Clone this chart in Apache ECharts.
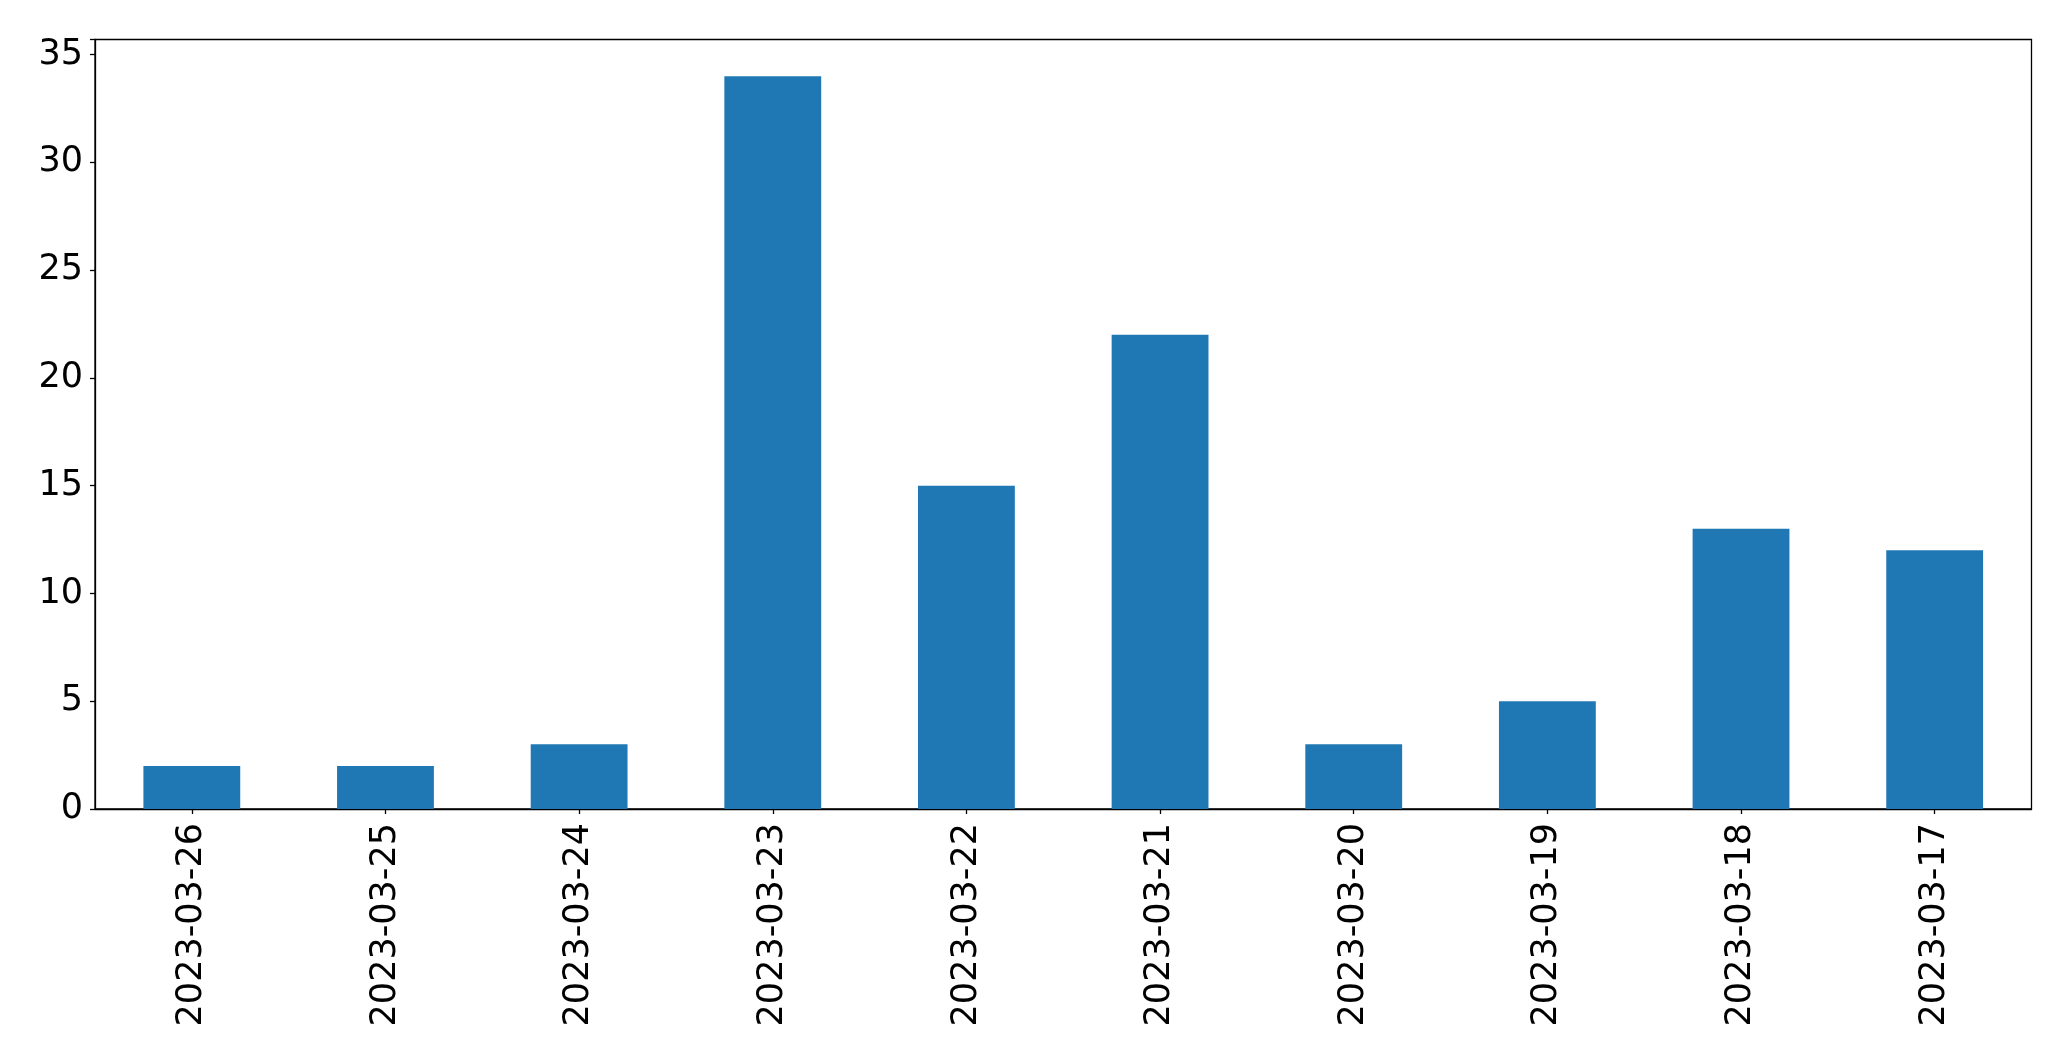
<!DOCTYPE html>
<html><head><meta charset="utf-8">
<script src="https://cdn.jsdelivr.net/npm/echarts@6/dist/echarts.min.js"></script>
<style>html,body{margin:0;padding:0;background:#fff}#c{width:2071px;height:1061px}</style>
</head><body><div id="c"></div>
<script>
const categories = ["2023-03-26","2023-03-25","2023-03-24","2023-03-23","2023-03-22","2023-03-21","2023-03-20","2023-03-19","2023-03-18","2023-03-17"];
const values = [2,2,3,34,15,22,3,5,13,12];
const yTicks = [0,5,10,15,20,25,30,35];

const chart = echarts.init(document.getElementById('c'), null, {renderer:'canvas'});
const font = 'DejaVu Sans';
chart.setOption({
  animation:false,
  grid:{left:95,top:39.5,right:39.5,bottom:252,show:true,borderColor:'#000',borderWidth:1.3,backgroundColor:'transparent'},
  xAxis:{type:'category',data:categories,boundaryGap:true,
    axisLine:{show:true,lineStyle:{color:'#000',width:1.3}},
    axisTick:{show:true,alignWithLabel:true,length:5,lineStyle:{color:'#000',width:1.3}},
    axisLabel:{rotate:90,fontSize:35,fontFamily:font,color:'#000',margin:14}},
  yAxis:{type:'value',min:0,max:35.7,interval:5,
    axisLine:{show:true,lineStyle:{color:'#000',width:1.3}},
    axisTick:{show:true,length:5,lineStyle:{color:'#000',width:1.3}},
    splitLine:{show:false},
    axisLabel:{fontSize:35,fontFamily:font,color:'#000',margin:12,
      formatter:function(v){return yTicks.indexOf(v)>=0?String(v):'';}}},
  series:[{type:'bar',data:values,barWidth:'50%',itemStyle:{color:'#1f77b4'}}]
});
</script></body></html>
